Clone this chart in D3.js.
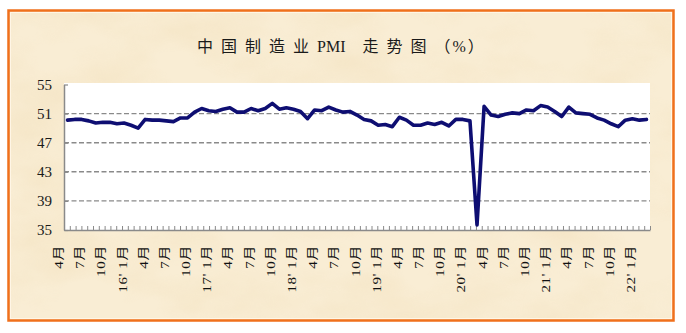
<!DOCTYPE html>
<html>
<head>
<meta charset="utf-8">
<script src="https://cdn.jsdelivr.net/npm/d3@7"></script>
<style>
  html, body { margin: 0; padding: 0; background: #ffffff; }
  svg { display: block; }
</style>
</head>
<body>
<svg id="chart" width="686" height="333"></svg>
<script>
// Monthly categories, April 2015 – February 2022
const months = [
  "2015-04","2015-05","2015-06","2015-07","2015-08","2015-09","2015-10","2015-11","2015-12",
  "2016-01","2016-02","2016-03","2016-04","2016-05","2016-06","2016-07","2016-08","2016-09","2016-10","2016-11","2016-12",
  "2017-01","2017-02","2017-03","2017-04","2017-05","2017-06","2017-07","2017-08","2017-09","2017-10","2017-11","2017-12",
  "2018-01","2018-02","2018-03","2018-04","2018-05","2018-06","2018-07","2018-08","2018-09","2018-10","2018-11","2018-12",
  "2019-01","2019-02","2019-03","2019-04","2019-05","2019-06","2019-07","2019-08","2019-09","2019-10","2019-11","2019-12",
  "2020-01","2020-02","2020-03","2020-04","2020-05","2020-06","2020-07","2020-08","2020-09","2020-10","2020-11","2020-12",
  "2021-01","2021-02","2021-03","2021-04","2021-05","2021-06","2021-07","2021-08","2021-09","2021-10","2021-11","2021-12",
  "2022-01","2022-02"
];

// Manufacturing PMI (%)
const pmi = [
  50.1, 50.2, 50.2, 50.0, 49.7, 49.8, 49.8, 49.6, 49.7,
  49.4, 49.0, 50.2, 50.1, 50.1, 50.0, 49.9, 50.4, 50.4, 51.2, 51.7, 51.4,
  51.3, 51.6, 51.8, 51.2, 51.2, 51.7, 51.4, 51.7, 52.4, 51.6, 51.8, 51.6,
  51.3, 50.3, 51.5, 51.4, 51.9, 51.5, 51.2, 51.3, 50.8, 50.2, 50.0, 49.4,
  49.5, 49.2, 50.5, 50.1, 49.4, 49.4, 49.7, 49.5, 49.8, 49.3, 50.2, 50.2,
  50.0, 35.7, 52.0, 50.8, 50.6, 50.9, 51.1, 51.0, 51.5, 51.4, 52.1, 51.9,
  51.3, 50.6, 51.9, 51.1, 51.0, 50.9, 50.4, 50.1, 49.6, 49.2, 50.1, 50.3,
  50.1, 50.2
];

// Axis labels, one every third month starting from the first category
const tickLabels = [
  "4月","7月","10月",
  "16' 1月","4月","7月","10月",
  "17' 1月","4月","7月","10月",
  "18' 1月","4月","7月","10月",
  "19' 1月","4月","7月","10月",
  "20' 1月","4月","7月","10月",
  "21' 1月","4月","7月","10月",
  "22' 1月"
];
const yTicks = [35, 39, 43, 47, 51, 55];
const gridValues = [39, 43, 47, 51];
const titleParts = ["中国制造业", "PMI", "走势图", "（%）"];

const svg = d3.select("#chart");
const W = 686, H = 333;
const plot = { left: 64, right: 650, top: 84.5, bottom: 230 };
const serif = "'Liberation Serif', 'Noto Sans CJK SC', serif";

// ---- paper-textured panel with orange frame ----
const defs = svg.append("defs");
const paper = defs.append("filter").attr("id", "paper")
  .attr("x", 0).attr("y", 0).attr("width", "100%").attr("height", "100%");
paper.append("feTurbulence")
  .attr("type", "fractalNoise").attr("baseFrequency", "0.010 0.018")
  .attr("numOctaves", 4).attr("seed", 7).attr("result", "noise");
paper.append("feColorMatrix").attr("in", "noise").attr("type", "matrix")
  .attr("values", "0 0 0 0 0.86  0 0 0 0 0.70  0 0 0 0 0.44  1.3 0 0 0 -0.52");

const frame = { x: 8.5, y: 10.5, w: 665, h: 310 };
svg.append("rect").attr("width", W).attr("height", H).attr("fill", "#ffffff");
svg.append("rect")
  .attr("x", frame.x).attr("y", frame.y).attr("width", frame.w).attr("height", frame.h)
  .attr("fill", "#f9edd4");
svg.append("rect")
  .attr("x", frame.x).attr("y", frame.y).attr("width", frame.w).attr("height", frame.h)
  .attr("filter", "url(#paper)").attr("opacity", 0.6);
svg.append("rect")
  .attr("x", frame.x + 2).attr("y", frame.y + 2).attr("width", frame.w - 4).attr("height", frame.h - 4)
  .attr("fill", "none").attr("stroke", "#fff6e6").attr("stroke-width", 1);
svg.append("rect")
  .attr("x", frame.x).attr("y", frame.y).attr("width", frame.w).attr("height", frame.h)
  .attr("fill", "none").attr("stroke", "#f0701c").attr("stroke-width", 2.5);

// ---- title ----
const title = svg.append("text")
  .attr("x", 197).attr("y", 52)
  .attr("font-family", serif).attr("font-size", 16).attr("fill", "#1a1a1a");
title.append("tspan").attr("letter-spacing", 8).text(titleParts[0]);
title.append("tspan").text(titleParts[1]);
title.append("tspan").attr("dx", 17).attr("letter-spacing", 8).text(titleParts[2]);
title.append("tspan").attr("letter-spacing", 2).text(titleParts[3]);

// ---- scales ----
const x = d3.scalePoint().domain(months).range([plot.left, plot.right]).padding(0.5);
const y = d3.scaleLinear().domain([35, 55]).range([plot.bottom, plot.top]);

// plot background
svg.append("rect")
  .attr("x", plot.left).attr("y", plot.top - 1.5)
  .attr("width", plot.right - plot.left).attr("height", plot.bottom - plot.top + 1.5)
  .attr("fill", "#ffffff");

// dashed gridlines
svg.append("g").selectAll("line").data(gridValues).join("line")
  .attr("x1", plot.left).attr("x2", plot.right)
  .attr("y1", d => y(d)).attr("y2", d => y(d))
  .attr("stroke", "#8a8a8a").attr("stroke-width", 1.4)
  .attr("stroke-dasharray", "5,2.5");

// y axis
const yAxis = svg.append("g")
  .attr("transform", `translate(${plot.left},0)`)
  .call(d3.axisLeft(y).tickValues(yTicks).tickSize(-4).tickSizeOuter(0).tickPadding(12));
yAxis.select(".domain").attr("stroke", "#8a8a8a").attr("stroke-width", 1.5);
yAxis.selectAll(".tick line").attr("stroke", "#8a8a8a").attr("stroke-width", 1.2);
yAxis.selectAll(".tick text")
  .attr("font-family", serif).attr("font-size", 15).attr("fill", "#1a1a1a");

// x axis: baseline with fine upward ticks
const tickScale = d3.scaleLinear().domain([0, 101]).range([plot.left, plot.right]);
const xAxis = svg.append("g")
  .attr("transform", `translate(0,${plot.bottom})`)
  .call(d3.axisBottom(tickScale).tickValues(d3.range(1, 102)).tickSize(-4).tickSizeOuter(0).tickFormat(""));
xAxis.select(".domain").attr("stroke", "#8a8a8a").attr("stroke-width", 1.5);
xAxis.selectAll(".tick line").attr("stroke", "#8a8a8a").attr("stroke-width", 1);

// rotated month labels
const labelMonths = months.filter((m, i) => i % 3 === 0);
svg.append("g").selectAll("text").data(tickLabels).join("text")
  .attr("transform", (d, i) => `translate(${x(labelMonths[i]) - 8.5},${plot.bottom + 15}) scale(0.8,1) rotate(-90)`)
  .attr("text-anchor", "end")
  .attr("dominant-baseline", "central")
  .attr("font-family", serif).attr("font-size", 15).attr("letter-spacing", 0.6)
  .attr("fill", "#111111")
  .text(d => d);

// PMI line
const line = d3.line()
  .x((d, i) => x(months[i]))
  .y(d => y(d));
svg.append("path")
  .datum(pmi)
  .attr("d", line)
  .attr("fill", "none")
  .attr("stroke", "#0e0e72")
  .attr("stroke-width", 3.6)
  .attr("stroke-linejoin", "round")
  .attr("stroke-linecap", "round");
</script>
</body>
</html>
